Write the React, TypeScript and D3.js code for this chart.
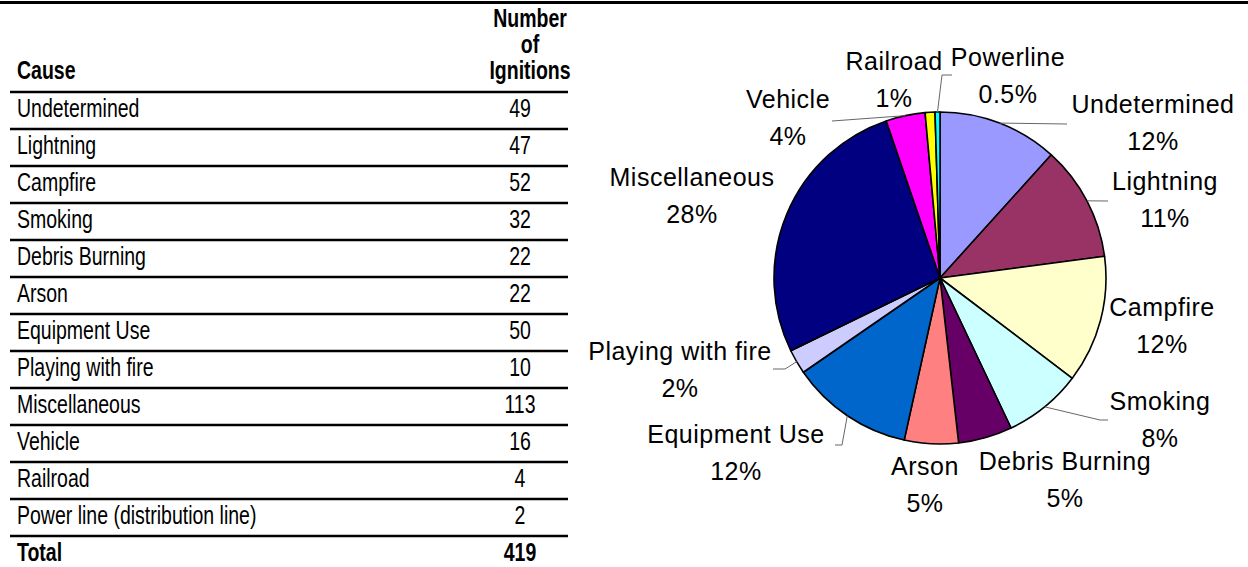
import React from "react";
import * as d3 from "d3";

// ---------- data ----------
const causes = [
  "Undetermined",
  "Lightning",
  "Campfire",
  "Smoking",
  "Debris Burning",
  "Arson",
  "Equipment Use",
  "Playing with fire",
  "Miscellaneous",
  "Vehicle",
  "Railroad",
  "Power line (distribution line)",
];
const ignitions = [49, 47, 52, 32, 22, 22, 50, 10, 113, 16, 4, 2];
const headerLines = ["Number", "of", "Ignitions"];

const pieNames = [
  "Undetermined",
  "Lightning",
  "Campfire",
  "Smoking",
  "Debris Burning",
  "Arson",
  "Equipment Use",
  "Playing with fire",
  "Miscellaneous",
  "Vehicle",
  "Railroad",
  "Powerline",
];
const piePercents = ["12%", "11%", "12%", "8%", "5%", "5%", "12%", "2%", "28%", "4%", "1%", "0.5%"];
const sliceColors = [
  "#9999FF",
  "#993366",
  "#FFFFCC",
  "#CCFFFF",
  "#660066",
  "#FF8080",
  "#0066CC",
  "#CCCCFF",
  "#000080",
  "#FF00FF",
  "#FFFF00",
  "#00FFFF",
];

// ---------- layout ----------
const W = 1248;
const H = 567;
const TABLE_LEFT = 10;
const TABLE_RIGHT = 568;
const HEADER_LINE = 92;
const ROW_H = 37;
const NUM_X = 520;
const HEAD_X = 530;
const TXT_X = 17;
const T_FONT = 25;
const T_SCALE = 0.78;

const CX = 940;
const CY = 278;
const R = 166;
const L_FONT = 25;
const L_GAP = 37;

// label anchor (center x, first baseline) for each slice
const labelAnchors: [number, number][] = [
  [1153, 113],
  [1165, 190],
  [1162, 316],
  [1160, 410],
  [1065, 470],
  [925, 475],
  [736, 443],
  [680, 360],
  [692, 186],
  [788, 108],
  [894, 70],
  [1008, 66],
];
// leader line bend/end points after the slice edge point (null = no leader)
const leaders: ([number, number][] | null)[] = [
  [[1067, 124]],
  [[1108, 201]],
  null,
  [[1100, 420], [1108, 420]],
  null,
  null,
  [[842, 445], [835, 445]],
  [[785, 369], [773, 369]],
  null,
  [[832, 121]],
  null,
  [[942, 75], [952, 75]],
];

function TText({ x, y, children, anchor = "start", bold = false }: any) {
  return (
    <text
      transform={`translate(${x},${y}) scale(${T_SCALE},1)`}
      textAnchor={anchor}
      fontFamily="'Liberation Sans', Arial, sans-serif"
      fontSize={T_FONT}
      fontWeight={bold ? "bold" : "normal"}
      fill="#000"
    >
      {children}
    </text>
  );
}

export default function App() {
  const rowKeys = [...causes, "Total"];
  const y = d3
    .scaleBand<string>()
    .domain(rowKeys)
    .range([HEADER_LINE, HEADER_LINE + ROW_H * rowKeys.length]);
  const total = d3.sum(ignitions);

  const pie = d3
    .pie<number>()
    .sort(null)
    .value((d) => d)
    .startAngle(0)
    .endAngle(2 * Math.PI);
  const arcs = pie(ignitions);
  const arc = d3.arc<d3.PieArcDatum<number>>().innerRadius(0).outerRadius(R);

  const edgePoint = (a: d3.PieArcDatum<number>): [number, number] => {
    const m = (a.startAngle + a.endAngle) / 2;
    return [CX + R * Math.sin(m), CY - R * Math.cos(m)];
  };

  return (
    <svg width={W} height={H} style={{ display: "block", position: "absolute", left: 0, top: 0 }}>
      <rect width={W} height={H} fill="#fff" />
      {/* top rule */}
      <line x1={0} x2={W} y1={2.5} y2={2.5} stroke="#000" strokeWidth={3} />

      {/* table header */}
      <TText x={TXT_X} y={79} bold>
        Cause
      </TText>
      {headerLines.map((t, i) => (
        <TText key={t} x={HEAD_X} y={27 + i * 26} anchor="middle" bold>
          {t}
        </TText>
      ))}
      <line x1={TABLE_LEFT} x2={TABLE_RIGHT} y1={HEADER_LINE} y2={HEADER_LINE} stroke="#000" strokeWidth={2.5} />

      {/* table rows */}
      {rowKeys.map((k, i) => {
        const top = y(k)!;
        const isTotal = k === "Total";
        const val = isTotal ? total : ignitions[i];
        return (
          <g key={k}>
            <TText x={TXT_X} y={top + 25} bold={isTotal}>
              {k}
            </TText>
            <TText x={NUM_X} y={top + 25} anchor="middle" bold={isTotal}>
              {val}
            </TText>
            {!isTotal && (
              <line
                x1={TABLE_LEFT}
                x2={TABLE_RIGHT}
                y1={top + ROW_H}
                y2={top + ROW_H}
                stroke="#000"
                strokeWidth={2.5}
              />
            )}
          </g>
        );
      })}

      {/* pie */}
      <g transform={`translate(${CX},${CY})`}>
        {arcs.map((a, i) => (
          <path key={i} d={arc(a)!} fill={sliceColors[i]} stroke="#000" strokeWidth={1.6} strokeLinejoin="round" />
        ))}
      </g>

      {/* leader lines */}
      {arcs.map((a, i) => {
        const pts = leaders[i];
        if (!pts) return null;
        const all = [edgePoint(a), ...pts];
        return (
          <path
            key={"l" + i}
            d={d3.line()(all)!}
            fill="none"
            stroke="#666"
            strokeWidth={1}
          />
        );
      })}

      {/* slice labels */}
      {pieNames.map((n, i) => {
        const [lx, ly] = labelAnchors[i];
        return (
          <text
            key={"t" + i}
            textAnchor="middle"
            fontFamily="'Liberation Sans', Arial, sans-serif"
            fontSize={L_FONT}
            letterSpacing={0.5}
            fill="#000"
          >
            <tspan x={lx} y={ly}>
              {n}
            </tspan>
            <tspan x={lx} y={ly + L_GAP}>
              {piePercents[i]}
            </tspan>
          </text>
        );
      })}
    </svg>
  );
}
